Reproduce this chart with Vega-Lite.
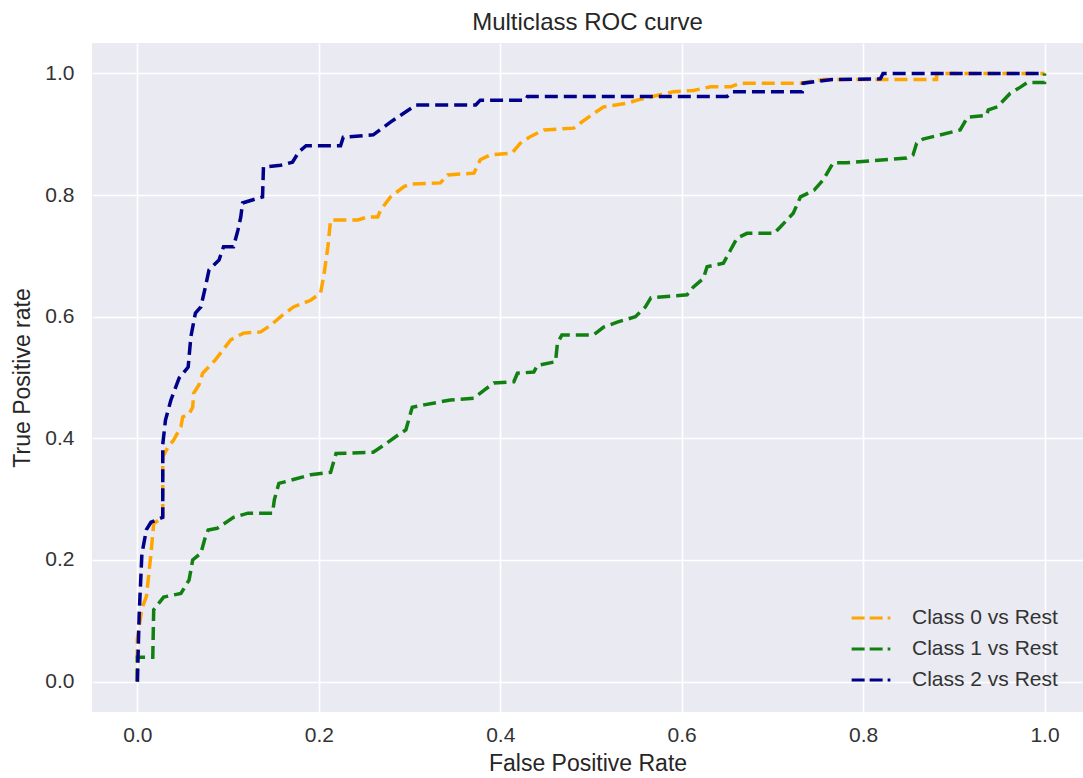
{
  "$schema": "https://vega.github.io/schema/vega-lite/v6.json",
  "width": 991,
  "height": 669,
  "autosize": {"type": "none"},
  "padding": {"left": 92, "top": 43, "right": 0, "bottom": 66},
  "background": "white",
  "title": {"text": "Multiclass ROC curve", "fontSize": 24, "font": "Liberation Sans", "fontWeight": "normal", "color": "#262626", "offset": 8},
  "config": {
    "view": {"fill": "#EAEAF2", "stroke": null},
    "axis": {"grid": true, "gridColor": "white", "gridWidth": 1.6, "domain": false, "ticks": false, "tickSize": 0,
      "labelFont": "Liberation Sans", "labelFontSize": 21, "labelColor": "#333333",
      "titleFont": "Liberation Sans", "titleFontSize": 23, "titleFontWeight": "normal", "titleColor": "#262626"},
    "axisX": {"labelPadding": 12, "titlePadding": 7},
    "axisY": {"labelPadding": 18, "titlePadding": 10}
  },
  "data": {"values": [
    {"cls": "Class 0 vs Rest", "fpr": 0, "tpr": 0},
    {"cls": "Class 0 vs Rest", "fpr": 0, "tpr": 0.07},
    {"cls": "Class 0 vs Rest", "fpr": 0.005, "tpr": 0.12},
    {"cls": "Class 0 vs Rest", "fpr": 0.01, "tpr": 0.14},
    {"cls": "Class 0 vs Rest", "fpr": 0.015, "tpr": 0.21},
    {"cls": "Class 0 vs Rest", "fpr": 0.018, "tpr": 0.26},
    {"cls": "Class 0 vs Rest", "fpr": 0.028, "tpr": 0.27},
    {"cls": "Class 0 vs Rest", "fpr": 0.028, "tpr": 0.37},
    {"cls": "Class 0 vs Rest", "fpr": 0.034, "tpr": 0.386},
    {"cls": "Class 0 vs Rest", "fpr": 0.04, "tpr": 0.397},
    {"cls": "Class 0 vs Rest", "fpr": 0.048, "tpr": 0.419},
    {"cls": "Class 0 vs Rest", "fpr": 0.05, "tpr": 0.435},
    {"cls": "Class 0 vs Rest", "fpr": 0.057, "tpr": 0.44},
    {"cls": "Class 0 vs Rest", "fpr": 0.061, "tpr": 0.451},
    {"cls": "Class 0 vs Rest", "fpr": 0.062, "tpr": 0.474},
    {"cls": "Class 0 vs Rest", "fpr": 0.068, "tpr": 0.488},
    {"cls": "Class 0 vs Rest", "fpr": 0.072, "tpr": 0.507},
    {"cls": "Class 0 vs Rest", "fpr": 0.086, "tpr": 0.529},
    {"cls": "Class 0 vs Rest", "fpr": 0.103, "tpr": 0.562},
    {"cls": "Class 0 vs Rest", "fpr": 0.117, "tpr": 0.573},
    {"cls": "Class 0 vs Rest", "fpr": 0.136, "tpr": 0.575},
    {"cls": "Class 0 vs Rest", "fpr": 0.147, "tpr": 0.586},
    {"cls": "Class 0 vs Rest", "fpr": 0.158, "tpr": 0.6},
    {"cls": "Class 0 vs Rest", "fpr": 0.172, "tpr": 0.616},
    {"cls": "Class 0 vs Rest", "fpr": 0.191, "tpr": 0.627},
    {"cls": "Class 0 vs Rest", "fpr": 0.202, "tpr": 0.639},
    {"cls": "Class 0 vs Rest", "fpr": 0.206, "tpr": 0.672},
    {"cls": "Class 0 vs Rest", "fpr": 0.21, "tpr": 0.715},
    {"cls": "Class 0 vs Rest", "fpr": 0.213, "tpr": 0.759},
    {"cls": "Class 0 vs Rest", "fpr": 0.243, "tpr": 0.759},
    {"cls": "Class 0 vs Rest", "fpr": 0.254, "tpr": 0.764},
    {"cls": "Class 0 vs Rest", "fpr": 0.265, "tpr": 0.764},
    {"cls": "Class 0 vs Rest", "fpr": 0.268, "tpr": 0.775},
    {"cls": "Class 0 vs Rest", "fpr": 0.279, "tpr": 0.797},
    {"cls": "Class 0 vs Rest", "fpr": 0.294, "tpr": 0.814},
    {"cls": "Class 0 vs Rest", "fpr": 0.301, "tpr": 0.818},
    {"cls": "Class 0 vs Rest", "fpr": 0.334, "tpr": 0.82},
    {"cls": "Class 0 vs Rest", "fpr": 0.342, "tpr": 0.833},
    {"cls": "Class 0 vs Rest", "fpr": 0.371, "tpr": 0.836},
    {"cls": "Class 0 vs Rest", "fpr": 0.378, "tpr": 0.858},
    {"cls": "Class 0 vs Rest", "fpr": 0.389, "tpr": 0.866},
    {"cls": "Class 0 vs Rest", "fpr": 0.413, "tpr": 0.869},
    {"cls": "Class 0 vs Rest", "fpr": 0.422, "tpr": 0.885},
    {"cls": "Class 0 vs Rest", "fpr": 0.433, "tpr": 0.896},
    {"cls": "Class 0 vs Rest", "fpr": 0.448, "tpr": 0.907},
    {"cls": "Class 0 vs Rest", "fpr": 0.481, "tpr": 0.91},
    {"cls": "Class 0 vs Rest", "fpr": 0.488, "tpr": 0.918},
    {"cls": "Class 0 vs Rest", "fpr": 0.503, "tpr": 0.934},
    {"cls": "Class 0 vs Rest", "fpr": 0.514, "tpr": 0.945},
    {"cls": "Class 0 vs Rest", "fpr": 0.54, "tpr": 0.951},
    {"cls": "Class 0 vs Rest", "fpr": 0.551, "tpr": 0.956},
    {"cls": "Class 0 vs Rest", "fpr": 0.591, "tpr": 0.97},
    {"cls": "Class 0 vs Rest", "fpr": 0.613, "tpr": 0.972},
    {"cls": "Class 0 vs Rest", "fpr": 0.632, "tpr": 0.978},
    {"cls": "Class 0 vs Rest", "fpr": 0.654, "tpr": 0.978},
    {"cls": "Class 0 vs Rest", "fpr": 0.665, "tpr": 0.984},
    {"cls": "Class 0 vs Rest", "fpr": 0.731, "tpr": 0.984},
    {"cls": "Class 0 vs Rest", "fpr": 0.756, "tpr": 0.99},
    {"cls": "Class 0 vs Rest", "fpr": 0.881, "tpr": 0.99},
    {"cls": "Class 0 vs Rest", "fpr": 0.881, "tpr": 1.0},
    {"cls": "Class 0 vs Rest", "fpr": 1.0, "tpr": 1.0},

    {"cls": "Class 1 vs Rest", "fpr": 0, "tpr": 0},
    {"cls": "Class 1 vs Rest", "fpr": 0, "tpr": 0.04},
    {"cls": "Class 1 vs Rest", "fpr": 0.017, "tpr": 0.04},
    {"cls": "Class 1 vs Rest", "fpr": 0.018, "tpr": 0.118},
    {"cls": "Class 1 vs Rest", "fpr": 0.029, "tpr": 0.139},
    {"cls": "Class 1 vs Rest", "fpr": 0.048, "tpr": 0.145},
    {"cls": "Class 1 vs Rest", "fpr": 0.057, "tpr": 0.167},
    {"cls": "Class 1 vs Rest", "fpr": 0.061, "tpr": 0.2},
    {"cls": "Class 1 vs Rest", "fpr": 0.07, "tpr": 0.211},
    {"cls": "Class 1 vs Rest", "fpr": 0.075, "tpr": 0.238},
    {"cls": "Class 1 vs Rest", "fpr": 0.078, "tpr": 0.249},
    {"cls": "Class 1 vs Rest", "fpr": 0.088, "tpr": 0.252},
    {"cls": "Class 1 vs Rest", "fpr": 0.106, "tpr": 0.27},
    {"cls": "Class 1 vs Rest", "fpr": 0.122, "tpr": 0.277},
    {"cls": "Class 1 vs Rest", "fpr": 0.149, "tpr": 0.277},
    {"cls": "Class 1 vs Rest", "fpr": 0.151, "tpr": 0.299},
    {"cls": "Class 1 vs Rest", "fpr": 0.156, "tpr": 0.326},
    {"cls": "Class 1 vs Rest", "fpr": 0.169, "tpr": 0.331},
    {"cls": "Class 1 vs Rest", "fpr": 0.191, "tpr": 0.34},
    {"cls": "Class 1 vs Rest", "fpr": 0.213, "tpr": 0.344},
    {"cls": "Class 1 vs Rest", "fpr": 0.219, "tpr": 0.375},
    {"cls": "Class 1 vs Rest", "fpr": 0.26, "tpr": 0.377},
    {"cls": "Class 1 vs Rest", "fpr": 0.272, "tpr": 0.389},
    {"cls": "Class 1 vs Rest", "fpr": 0.287, "tpr": 0.405},
    {"cls": "Class 1 vs Rest", "fpr": 0.296, "tpr": 0.414},
    {"cls": "Class 1 vs Rest", "fpr": 0.303, "tpr": 0.451},
    {"cls": "Class 1 vs Rest", "fpr": 0.316, "tpr": 0.455},
    {"cls": "Class 1 vs Rest", "fpr": 0.345, "tpr": 0.463},
    {"cls": "Class 1 vs Rest", "fpr": 0.371, "tpr": 0.466},
    {"cls": "Class 1 vs Rest", "fpr": 0.382, "tpr": 0.479},
    {"cls": "Class 1 vs Rest", "fpr": 0.393, "tpr": 0.491},
    {"cls": "Class 1 vs Rest", "fpr": 0.415, "tpr": 0.493},
    {"cls": "Class 1 vs Rest", "fpr": 0.419, "tpr": 0.507},
    {"cls": "Class 1 vs Rest", "fpr": 0.437, "tpr": 0.509},
    {"cls": "Class 1 vs Rest", "fpr": 0.441, "tpr": 0.52},
    {"cls": "Class 1 vs Rest", "fpr": 0.461, "tpr": 0.526},
    {"cls": "Class 1 vs Rest", "fpr": 0.463, "tpr": 0.556},
    {"cls": "Class 1 vs Rest", "fpr": 0.468, "tpr": 0.57},
    {"cls": "Class 1 vs Rest", "fpr": 0.503, "tpr": 0.57},
    {"cls": "Class 1 vs Rest", "fpr": 0.514, "tpr": 0.583},
    {"cls": "Class 1 vs Rest", "fpr": 0.529, "tpr": 0.591},
    {"cls": "Class 1 vs Rest", "fpr": 0.549, "tpr": 0.6},
    {"cls": "Class 1 vs Rest", "fpr": 0.56, "tpr": 0.616},
    {"cls": "Class 1 vs Rest", "fpr": 0.566, "tpr": 0.631},
    {"cls": "Class 1 vs Rest", "fpr": 0.606, "tpr": 0.636},
    {"cls": "Class 1 vs Rest", "fpr": 0.613, "tpr": 0.649},
    {"cls": "Class 1 vs Rest", "fpr": 0.624, "tpr": 0.663},
    {"cls": "Class 1 vs Rest", "fpr": 0.628, "tpr": 0.682},
    {"cls": "Class 1 vs Rest", "fpr": 0.646, "tpr": 0.688},
    {"cls": "Class 1 vs Rest", "fpr": 0.654, "tpr": 0.71},
    {"cls": "Class 1 vs Rest", "fpr": 0.661, "tpr": 0.729},
    {"cls": "Class 1 vs Rest", "fpr": 0.672, "tpr": 0.737},
    {"cls": "Class 1 vs Rest", "fpr": 0.702, "tpr": 0.737},
    {"cls": "Class 1 vs Rest", "fpr": 0.709, "tpr": 0.748},
    {"cls": "Class 1 vs Rest", "fpr": 0.723, "tpr": 0.77},
    {"cls": "Class 1 vs Rest", "fpr": 0.731, "tpr": 0.797},
    {"cls": "Class 1 vs Rest", "fpr": 0.746, "tpr": 0.808},
    {"cls": "Class 1 vs Rest", "fpr": 0.756, "tpr": 0.825},
    {"cls": "Class 1 vs Rest", "fpr": 0.767, "tpr": 0.853},
    {"cls": "Class 1 vs Rest", "fpr": 0.782, "tpr": 0.853},
    {"cls": "Class 1 vs Rest", "fpr": 0.848, "tpr": 0.861},
    {"cls": "Class 1 vs Rest", "fpr": 0.855, "tpr": 0.866},
    {"cls": "Class 1 vs Rest", "fpr": 0.859, "tpr": 0.885},
    {"cls": "Class 1 vs Rest", "fpr": 0.866, "tpr": 0.892},
    {"cls": "Class 1 vs Rest", "fpr": 0.907, "tpr": 0.907},
    {"cls": "Class 1 vs Rest", "fpr": 0.915, "tpr": 0.928},
    {"cls": "Class 1 vs Rest", "fpr": 0.936, "tpr": 0.931},
    {"cls": "Class 1 vs Rest", "fpr": 0.938, "tpr": 0.94},
    {"cls": "Class 1 vs Rest", "fpr": 0.948, "tpr": 0.945},
    {"cls": "Class 1 vs Rest", "fpr": 0.962, "tpr": 0.967},
    {"cls": "Class 1 vs Rest", "fpr": 0.973, "tpr": 0.977},
    {"cls": "Class 1 vs Rest", "fpr": 0.981, "tpr": 0.985},
    {"cls": "Class 1 vs Rest", "fpr": 1.0, "tpr": 0.985},
    {"cls": "Class 1 vs Rest", "fpr": 1.0, "tpr": 1.0},

    {"cls": "Class 2 vs Rest", "fpr": 0, "tpr": 0},
    {"cls": "Class 2 vs Rest", "fpr": 0.002, "tpr": 0.11},
    {"cls": "Class 2 vs Rest", "fpr": 0.005, "tpr": 0.21},
    {"cls": "Class 2 vs Rest", "fpr": 0.01, "tpr": 0.25},
    {"cls": "Class 2 vs Rest", "fpr": 0.015, "tpr": 0.262},
    {"cls": "Class 2 vs Rest", "fpr": 0.028, "tpr": 0.27},
    {"cls": "Class 2 vs Rest", "fpr": 0.028, "tpr": 0.39},
    {"cls": "Class 2 vs Rest", "fpr": 0.031, "tpr": 0.43},
    {"cls": "Class 2 vs Rest", "fpr": 0.037, "tpr": 0.463},
    {"cls": "Class 2 vs Rest", "fpr": 0.046, "tpr": 0.499},
    {"cls": "Class 2 vs Rest", "fpr": 0.056, "tpr": 0.517},
    {"cls": "Class 2 vs Rest", "fpr": 0.059, "tpr": 0.567},
    {"cls": "Class 2 vs Rest", "fpr": 0.064, "tpr": 0.606},
    {"cls": "Class 2 vs Rest", "fpr": 0.07, "tpr": 0.616},
    {"cls": "Class 2 vs Rest", "fpr": 0.075, "tpr": 0.649},
    {"cls": "Class 2 vs Rest", "fpr": 0.079, "tpr": 0.677},
    {"cls": "Class 2 vs Rest", "fpr": 0.09, "tpr": 0.693},
    {"cls": "Class 2 vs Rest", "fpr": 0.095, "tpr": 0.715},
    {"cls": "Class 2 vs Rest", "fpr": 0.106, "tpr": 0.715},
    {"cls": "Class 2 vs Rest", "fpr": 0.111, "tpr": 0.743},
    {"cls": "Class 2 vs Rest", "fpr": 0.114, "tpr": 0.764},
    {"cls": "Class 2 vs Rest", "fpr": 0.116, "tpr": 0.787},
    {"cls": "Class 2 vs Rest", "fpr": 0.138, "tpr": 0.797},
    {"cls": "Class 2 vs Rest", "fpr": 0.139, "tpr": 0.846},
    {"cls": "Class 2 vs Rest", "fpr": 0.158, "tpr": 0.849},
    {"cls": "Class 2 vs Rest", "fpr": 0.171, "tpr": 0.854},
    {"cls": "Class 2 vs Rest", "fpr": 0.178, "tpr": 0.871},
    {"cls": "Class 2 vs Rest", "fpr": 0.186, "tpr": 0.881},
    {"cls": "Class 2 vs Rest", "fpr": 0.224, "tpr": 0.881},
    {"cls": "Class 2 vs Rest", "fpr": 0.227, "tpr": 0.895},
    {"cls": "Class 2 vs Rest", "fpr": 0.26, "tpr": 0.899},
    {"cls": "Class 2 vs Rest", "fpr": 0.279, "tpr": 0.92},
    {"cls": "Class 2 vs Rest", "fpr": 0.296, "tpr": 0.937},
    {"cls": "Class 2 vs Rest", "fpr": 0.307, "tpr": 0.948},
    {"cls": "Class 2 vs Rest", "fpr": 0.373, "tpr": 0.948},
    {"cls": "Class 2 vs Rest", "fpr": 0.378, "tpr": 0.956},
    {"cls": "Class 2 vs Rest", "fpr": 0.428, "tpr": 0.956},
    {"cls": "Class 2 vs Rest", "fpr": 0.43, "tpr": 0.962},
    {"cls": "Class 2 vs Rest", "fpr": 0.65, "tpr": 0.962},
    {"cls": "Class 2 vs Rest", "fpr": 0.656, "tpr": 0.97},
    {"cls": "Class 2 vs Rest", "fpr": 0.733, "tpr": 0.97},
    {"cls": "Class 2 vs Rest", "fpr": 0.734, "tpr": 0.984},
    {"cls": "Class 2 vs Rest", "fpr": 0.766, "tpr": 0.99},
    {"cls": "Class 2 vs Rest", "fpr": 0.819, "tpr": 0.991},
    {"cls": "Class 2 vs Rest", "fpr": 0.822, "tpr": 1.0},
    {"cls": "Class 2 vs Rest", "fpr": 1.0, "tpr": 1.0}
  ]},
  "mark": {"type": "line", "strokeWidth": 3.5, "strokeDash": [13, 6], "clip": true},
  "encoding": {
    "x": {"field": "fpr", "type": "quantitative",
      "scale": {"domain": [-0.05, 1.0424], "nice": false, "zero": false},
      "axis": {"title": "False Positive Rate", "values": [0, 0.2, 0.4, 0.6, 0.8, 1.0], "format": ".1f"}},
    "y": {"field": "tpr", "type": "quantitative",
      "scale": {"domain": [-0.05, 1.05], "nice": false, "zero": false},
      "axis": {"title": "True Positive rate", "values": [0, 0.2, 0.4, 0.6, 0.8, 1.0], "format": ".1f"}},
    "color": {"field": "cls", "type": "nominal",
      "scale": {"domain": ["Class 0 vs Rest", "Class 1 vs Rest", "Class 2 vs Rest"], "range": ["#FFA500", "#108010", "#00008B"]},
      "legend": {"orient": "none", "legendX": 758, "legendY": 554, "title": null, "symbolType": "stroke",
        "symbolSize": 1500, "symbolStrokeWidth": 3, "symbolDash": [13, 5],
        "labelFont": "Liberation Sans", "labelFontSize": 21, "labelColor": "#333333", "labelOffset": 20, "rowPadding": -14}},
    "order": {"value": null}
  }
}
